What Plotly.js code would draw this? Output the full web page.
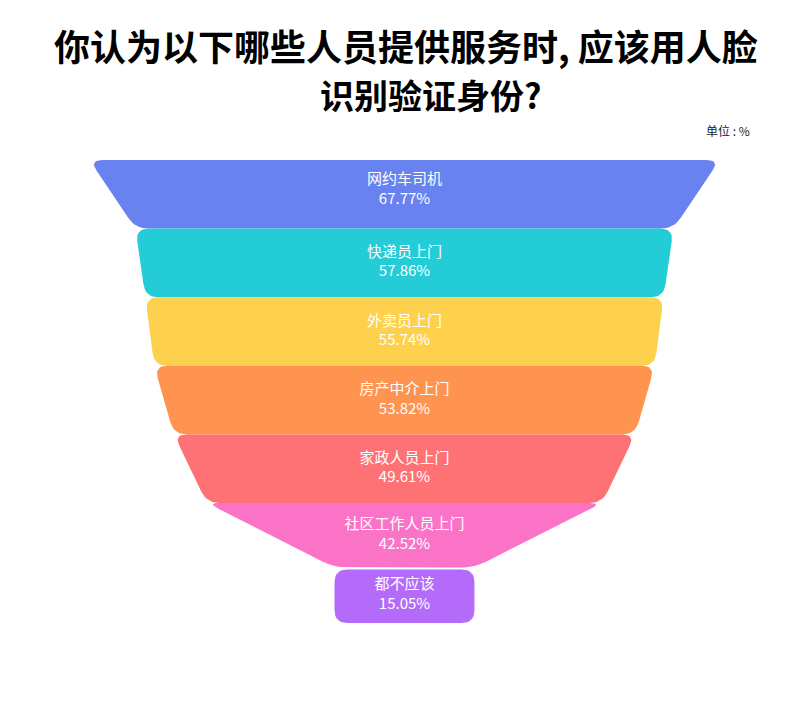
<!DOCTYPE html>
<html>
<head>
<meta charset="utf-8">
<script src="https://cdn.plot.ly/plotly-3.0.1.min.js"></script>
<style>
  body { margin: 0; background: #fff; }
  #chart { width: 800px; height: 712px; }
</style>
</head>
<body>
<div id="chart"></div>
<script>
// survey answers, percent
let categories = ['网约车司机', '快递员上门', '外卖员上门', '房产中介上门', '家政人员上门', '社区工作人员上门', '都不应该'];
let values = [67.77, 57.86, 55.74, 53.82, 49.61, 42.52, 15.05];
let colors = ['#6882ef', '#24ccd8', '#fdd14d', '#fe9450', '#fe7276', '#fa73c6', '#b46bfa'];

// layout helpers (row edges in row units, last rows are shorter)
let rowEdges = [0, 1, 2, 3, 4, 5, 5.94, 6.75];
let W = 800, H = 712;
let pxPerX = 9.3;      // px per percent of width
let pxPerY = 68.6;     // px per row
let centerPx = 404.5, topPx = 160;
let xRange = [-centerPx / pxPerX, (W - centerPx) / pxPerX];
let yRange = [(H - topPx) / pxPerY, -topPx / pxPerY];
let radius = 13;

function roundedPoly(pts) {
  // pts in data coords; round corners in pixel space
  let px = pts.map(p => [p[0] * pxPerX, p[1] * pxPerY]);
  let out = [];
  let n = px.length;
  for (let i = 0; i < n; i++) {
    let v = px[i], p = px[(i + n - 1) % n], q = px[(i + 1) % n];
    let d1 = Math.hypot(p[0] - v[0], p[1] - v[1]);
    let d2 = Math.hypot(q[0] - v[0], q[1] - v[1]);
    let r = Math.min(radius, d1 / 2, d2 / 2);
    let a = [v[0] + (p[0] - v[0]) * r / d1, v[1] + (p[1] - v[1]) * r / d1];
    let b = [v[0] + (q[0] - v[0]) * r / d2, v[1] + (q[1] - v[1]) * r / d2];
    for (let t = 0; t <= 1.0001; t += 0.125) {
      let x = (1 - t) * (1 - t) * a[0] + 2 * (1 - t) * t * v[0] + t * t * b[0];
      let y = (1 - t) * (1 - t) * a[1] + 2 * (1 - t) * t * v[1] + t * t * b[1];
      out.push([x / pxPerX, y / pxPerY]);
    }
  }
  out.push(out[0]);
  return out;
}

let traces = [];
let n = values.length;
for (let i = 0; i < n; i++) {
  let top = rowEdges[i], bot = rowEdges[i + 1];
  if (i === n - 1) top += 0.03;
  let a = values[i] / 2;
  let b = i < n - 1 ? values[i + 1] / 2 : a;
  let poly = roundedPoly([[-a, top], [a, top], [b, bot], [-b, bot]]);
  traces.push({
    x: poly.map(p => p[0]),
    y: poly.map(p => p[1]),
    type: 'scatter',
    mode: 'lines',
    fill: 'toself',
    fillcolor: colors[i],
    line: { width: 0, color: colors[i] },
    hoverinfo: 'skip',
    showlegend: false
  });
}

traces.push({
  x: values.map(() => 0),
  y: values.map((v, i) => (rowEdges[i] + rowEdges[i + 1]) / 2 - (i === 0 ? 0.06 : 0)),
  text: categories.map((c, i) => c + '<br>' + values[i].toFixed(2) + '%'),
  type: 'scatter',
  mode: 'text',
  textposition: 'middle center',
  textfont: { family: 'Noto Sans CJK SC, Noto Sans, sans-serif', size: 15, color: '#ffffff' },
  hoverinfo: 'skip',
  showlegend: false
});

let layout = {
  width: W,
  height: H,
  margin: { l: 0, r: 0, t: 0, b: 0 },
  paper_bgcolor: '#ffffff',
  plot_bgcolor: '#ffffff',
  xaxis: { range: xRange, visible: false, fixedrange: true },
  yaxis: { range: yRange, visible: false, fixedrange: true },
  annotations: [
    {
      text: '<b>你认为以下哪些人员提供服务时, 应该用人脸</b>',
      xref: 'paper', yref: 'paper', x: 406 / W, y: 1 - 45 / H,
      xanchor: 'center', yanchor: 'middle', showarrow: false,
      font: { family: 'Noto Sans CJK SC, sans-serif', size: 36, color: '#000000' }
    },
    {
      text: '<b>识别验证身份?</b>',
      xref: 'paper', yref: 'paper', x: 431 / W, y: 1 - 95 / H,
      xanchor: 'center', yanchor: 'middle', showarrow: false,
      font: { family: 'Noto Sans CJK SC, sans-serif', size: 34, color: '#000000' }
    },
    {
      text: '单位\u00a0:\u00a0%',
      xref: 'paper', yref: 'paper', x: 752 / W, y: 1 - 131 / H,
      xanchor: 'right', yanchor: 'middle', showarrow: false,
      font: { family: 'Noto Sans CJK SC, sans-serif', size: 12, color: '#222222' }
    }
  ]
};

Plotly.newPlot('chart', traces, layout, { displayModeBar: false, staticPlot: true });
</script>
</body>
</html>
